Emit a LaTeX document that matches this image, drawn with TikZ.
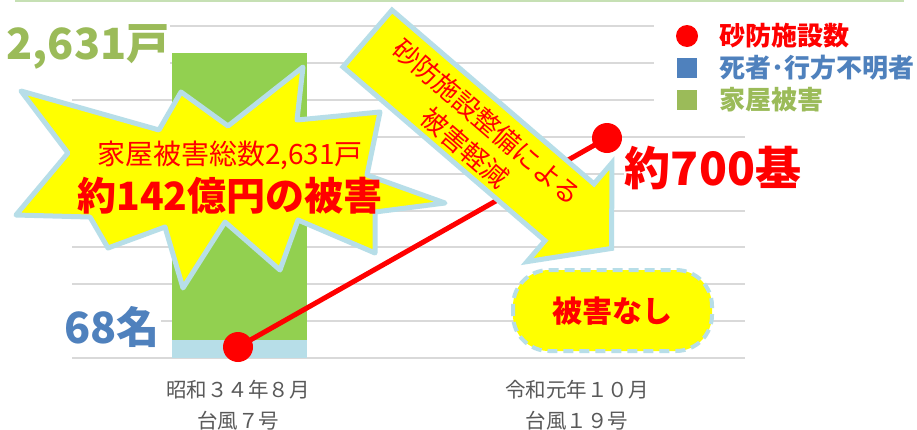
\documentclass[tikz,border=0pt]{standalone}
\usepackage{fontspec}
\setmainfont{Noto Sans CJK JP}
\definecolor{gridgray}{RGB}{217,217,217}
\definecolor{topgreen}{RGB}{198,224,180}
\definecolor{bargreen}{RGB}{146,208,80}
\definecolor{paleblue}{RGB}{183,222,232}
\definecolor{legblue}{RGB}{79,129,189}
\definecolor{leggreen}{RGB}{155,187,89}
\definecolor{catgray}{RGB}{89,89,89}
\definecolor{hiyellow}{RGB}{255,255,0}
\definecolor{pured}{RGB}{255,0,0}
\newcommand\jpsize[1]{\fontsize{#1}{#1}\selectfont}
\tikzset{
  gridline/.style={draw=gridgray, line width=2pt},
  burst/.style={fill=hiyellow, draw=paleblue, line width=5pt, line join=round},
  bigarrow/.style={fill=hiyellow, draw=paleblue, line width=5pt, line join=miter},
  pill/.style={fill=hiyellow, draw=paleblue, line width=4pt, rounded corners=36pt, dash pattern=on 10pt off 6pt},
  redline/.style={draw=pured, line width=5pt},
  reddot/.style={circle, fill=pured, minimum size=30pt, inner sep=0pt},
  legdot/.style={circle, fill=pured, minimum size=22pt, inner sep=0pt},
  legsq/.style={rectangle, minimum size=20pt, inner sep=0pt},
  legtext/.style={anchor=west, inner sep=0pt, font=\jpsize{26}\bfseries},
  bigval/.style={fill=white, inner sep=1pt, font=\jpsize{43}\bfseries},
  cattext/.style={align=center, text=catgray, font=\fontsize{20.5}{31}\selectfont},
}
\begin{document}
\begin{tikzpicture}[x=1pt,y=-1pt]
\useasboundingbox (0,0) rectangle (917,429);
\fill[white] (0,0) rectangle (917,429);
% top rule
\draw[draw=topgreen, line width=2.5pt] (15,1) -- (904,1);
% grid lines
\foreach \i in {0,...,9} {
  \pgfmathsetmacro\yy{26+\i*36.9}
  \draw[gridline] (72,\yy) -- (745,\yy);
}
% legend background
\fill[white] (654,12) rectangle (917,116);
% bar
\fill[bargreen] (172,53) rectangle (307,340);
\fill[paleblue] (172,340) rectangle (307,358);
% value labels
\node[bigval, text=leggreen] (v1) at (88,47) {2,631戸};
\node[bigval, text=legblue] (v2) at (112,327) {68名};
\node[bigval, text=pured, font=\jpsize{46}\bfseries] (v3) at (713,168) {約700基};
% starburst
\filldraw[burst] (21,91) -- (159,130) -- (181,92) -- (228,126) -- (303,67) -- (297,120)
  -- (380,112) -- (367,175) -- (445,203) -- (375,212) -- (375,253) -- (298,220)
  -- (280,270) -- (225,222) -- (183,288) -- (165,227) -- (108,248) -- (90,217)
  -- (16,215) -- (68,153) -- cycle;
\node[text=pured, font=\jpsize{28}, inner sep=0pt] (b1) at (230,155) {家屋被害総数2,631戸};
\node[text=pured, font=\jpsize{39}\bfseries, inner sep=0pt] (b2) at (230,196) {約142億円の被害};
% red line
\coordinate (p1) at (238,347);
\coordinate (p2) at (607,138);
\draw[redline] (p1) -- (p2);
% big arrow
\filldraw[bigarrow] (392,10.1) -- (594,183.9) -- (611.9,163) -- (611.6,248.4)
  -- (527.1,261.6) -- (545,240.7) -- (343,66.9) -- cycle;
\node[text=pured, align=center, rotate=-40.7, font=\fontsize{26.5}{34}\selectfont, inner sep=0pt] (at) at (476,135) {砂防施設整備による\\被害軽減};
% dots
\node[reddot] (d1) at (p1) {};
\node[reddot] (d2) at (p2) {};
% no damage pill
\filldraw[pill] (513,270) rectangle (712,351);
\node[text=pured, font=\jpsize{30}\bfseries, inner sep=0pt] (nd) at (612,311) {被害なし};
% category labels
\node[cattext] (c1) at (238,405) {昭和３４年８月\\台風７号};
\node[cattext] (c2) at (577,405) {令和元年１０月\\台風１９号};
% legend
\node[legdot] (l1) at (687,36) {};
\node[legsq, fill=legblue] (l2) at (687,68) {};
\node[legsq, fill=leggreen] (l3) at (687,100) {};
\node[legtext, text=pured] (t1) at (719,36) {砂防施設数};
\node[legtext, text=legblue] (t2) at (719,68) {死者･行方不明者};
\node[legtext, text=leggreen] (t3) at (719,100) {家屋被害};
\end{tikzpicture}
\end{document}
